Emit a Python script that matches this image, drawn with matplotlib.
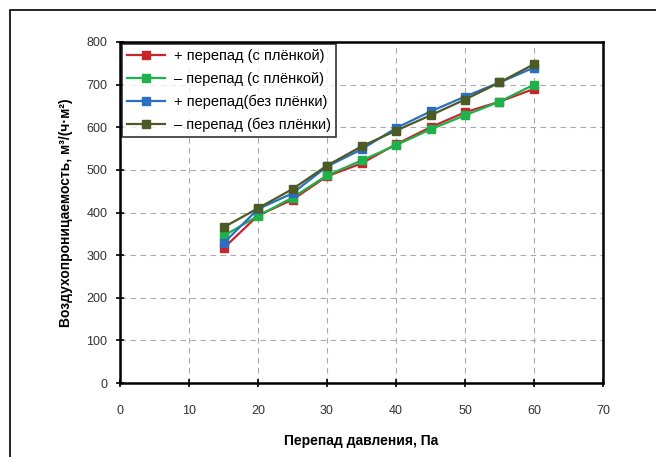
import matplotlib
matplotlib.use("Agg")
import matplotlib.pyplot as plt
from matplotlib.patches import Rectangle

plt.rcParams['font.family'] = ['Liberation Sans', 'DejaVu Sans']

x = [15, 20, 25, 30, 35, 40, 45, 50, 55, 60]
plus_film = [316, 393, 430, 485, 515, 560, 600, 635, 660, 690]
minus_film = [345, 392, 435, 487, 522, 558, 595, 628, 660, 700]
plus_nofilm = [328, 408, 445, 508, 548, 598, 637, 672, 705, 740]
minus_nofilm = [365, 410, 455, 510, 555, 592, 628, 665, 705, 748]
labels = ["+ перепад (с плёнкой)", "– перепад (с плёнкой)",
          "+ перепад(без плёнки)", "– перепад (без плёнки)"]
colors = ["#c8242b", "#1fb24a", "#2a6fc0", "#4c5a25"]
xticks = [0, 10, 20, 30, 40, 50, 60, 70]
yticks = [0, 100, 200, 300, 400, 500, 600, 700, 800]

fig = plt.figure(figsize=(6.56, 4.57), dpi=100)
fig.patches.append(Rectangle((10/656, -0.1), 1.2, 1 - 10/457 + 0.1, transform=fig.transFigure,
                             fill=False, edgecolor='black', linewidth=1.2))
ax = fig.add_axes([120/656, 1 - 383/457, (603-120)/656, (383-42)/457])

for ys, lab, c in zip([plus_film, minus_film, plus_nofilm, minus_nofilm], labels, colors):
    ax.plot(x, ys, color=c, marker='s', markersize=6, linewidth=1.6, label=lab)

ax.set_xlim(0, 70)
ax.set_ylim(0, 800)
ax.set_xticks(xticks)
ax.set_yticks(yticks)
ax.grid(True, linestyle=(0, (5, 4)), color='#aaaaaa', linewidth=0.8)
for s in ax.spines.values():
    s.set_linewidth(1.8)
ax.tick_params(direction='inout', length=6, width=1.2, labelsize=9, labelcolor='#333333', pad=6)
ax.tick_params(axis='x', pad=13)
ax.set_xlabel("Перепад давления, Па", fontsize=10, fontweight='bold', labelpad=12)
ax.set_ylabel("Воздухопроницаемость, м³/(ч·м²)", fontsize=10, fontweight='bold', labelpad=10)

leg = ax.legend(loc='upper left', bbox_to_anchor=(0.0, 1.0), frameon=True, fancybox=False,
                edgecolor='black', fontsize=10.5, handlelength=2.6, borderpad=0.35,
                labelspacing=0.6, handletextpad=0.6, borderaxespad=0.15)
leg.get_frame().set_linewidth(1.2)

fig.savefig("out.png", dpi=100)
